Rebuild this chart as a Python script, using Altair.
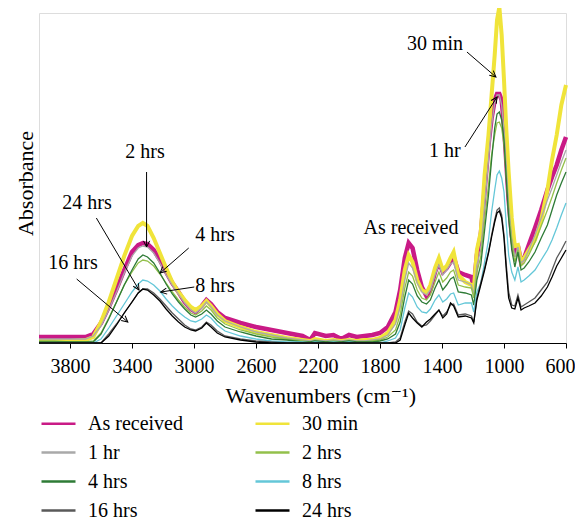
import math
import altair as alt
import pandas as pd

# ---------------- data ----------------
wavenumber = [
    4000, 3900, 3800, 3700, 3650, 3600, 3550, 3500, 3450, 3400,
    3360, 3330, 3300, 3260, 3220, 3180, 3140, 3100, 3060, 3020,
    2990, 2950, 2920, 2890, 2850, 2800, 2700, 2600, 2500, 2400,
    2300, 2250, 2220, 2150, 2100, 2050, 2000, 1950, 1900, 1850,
    1800, 1750, 1700, 1670, 1640, 1615, 1590, 1560, 1530, 1500,
    1475, 1445, 1420, 1395, 1370, 1345, 1325, 1295, 1250, 1210,
    1195, 1175, 1150, 1125, 1100, 1080, 1060, 1045, 1030, 1015,
    1000, 985, 970, 950, 930, 910, 890, 870, 840, 800,
    760, 720, 690, 660, 630, 600]

as_received = [
    6, 6, 6, 6, 9, 20, 36, 54, 73, 91,
    98, 100, 99, 93, 83, 71, 60, 51, 41, 34,
    31, 37, 43, 39, 31, 25, 20, 16, 13, 10,
    7, 3, 10, 7, 8, 4, 8, 6, 7, 8,
    10, 16, 31, 53, 85, 100, 95, 73, 56, 47,
    53, 71, 81, 71, 75, 81, 86, 71, 68, 66,
    55, 88, 108, 153, 198, 225, 243, 249, 249, 243,
    218, 181, 143, 108, 87, 97, 81, 85, 98, 115,
    133, 153, 166, 178, 193, 206]

min_30 = [
    2, 2, 2, 3, 6, 21, 41, 64, 87, 107,
    117, 120, 117, 105, 90, 75, 61, 51, 43, 36,
    33, 37, 42, 37, 29, 22, 16, 11, 8, 5,
    3, 2, 4, 2, 3, 2, 3, 2, 3, 3,
    5, 10, 23, 43, 73, 88, 81, 63, 53, 50,
    58, 75, 85, 73, 77, 85, 91, 68, 61, 58,
    53, 93, 111, 168, 208, 248, 288, 323, 336, 308,
    263, 213, 171, 125, 97, 98, 81, 85, 93, 103,
    123, 153, 183, 208, 238, 258]

hr_1 = [
    4, 4, 4, 4, 7, 17, 33, 51, 70, 87,
    95, 97, 96, 90, 80, 68, 58, 49, 40, 33,
    30, 35, 41, 36, 28, 22, 16, 11, 8, 5,
    3, 2, 3, 2, 3, 2, 3, 2, 2, 3,
    4, 8, 19, 36, 63, 80, 75, 60, 51, 48,
    53, 68, 78, 68, 73, 79, 81, 63, 61, 58,
    48, 78, 93, 138, 183, 218, 240, 248, 248, 238,
    213, 175, 138, 105, 86, 96, 80, 83, 93, 108,
    125, 143, 155, 168, 181, 193]

hrs_2 = [
    2, 2, 1, 1, 2, 10, 25, 41, 58, 71,
    80, 83, 82, 77, 69, 60, 51, 43, 36, 30,
    28, 32, 37, 33, 25, 19, 13, 9, 6, 4,
    2, 1, 2, 1, 2, 1, 2, 1, 1, 2,
    3, 6, 13, 28, 55, 71, 67, 53, 45, 43,
    48, 61, 71, 61, 65, 71, 73, 58, 56, 55,
    45, 71, 86, 123, 158, 188, 208, 220, 221, 215,
    198, 165, 131, 101, 81, 93, 77, 80, 88, 101,
    117, 133, 146, 160, 173, 185]

hrs_4 = [
    1, 1, 1, 1, 1, 9, 24, 41, 58, 73,
    84, 88, 86, 80, 70, 59, 49, 41, 34, 28,
    26, 29, 33, 29, 22, 16, 11, 7, 4, 3,
    1, 1, 2, 1, 1, 1, 2, 1, 1, 1,
    2, 4, 9, 21, 46, 63, 59, 47, 41, 39,
    43, 55, 63, 53, 58, 64, 66, 51, 50, 48,
    38, 63, 78, 113, 148, 183, 215, 229, 231, 223,
    203, 163, 125, 93, 76, 91, 73, 75, 81, 91,
    105, 118, 133, 148, 160, 171]

hrs_8 = [
    0, 0, 0, 0, 0, 4, 15, 27, 39, 51,
    59, 63, 62, 58, 52, 44, 37, 31, 26, 22,
    21, 24, 28, 25, 18, 12, 7, 4, 2, 1,
    1, 0, 1, 0, 1, 0, 1, 0, 0, 0,
    0, 2, 5, 13, 35, 50, 46, 36, 31, 30,
    34, 43, 48, 41, 44, 49, 50, 38, 40, 40,
    31, 51, 60, 81, 103, 131, 153, 168, 172, 165,
    151, 118, 88, 71, 63, 76, 61, 63, 67, 73,
    83, 93, 103, 115, 128, 140]

hrs_16 = [
    0, 0, 0, 0, 0, 0, 9, 19, 30, 41,
    50, 54, 54, 50, 44, 37, 30, 24, 18, 14,
    13, 16, 21, 18, 12, 7, 4, 2, 1, 0,
    0, 0, 0, 0, 0, 0, 0, 0, 0, 0,
    0, 0, 1, 5, 21, 32, 29, 21, 17, 18,
    22, 28, 33, 27, 31, 38, 39, 28, 29, 27,
    21, 45, 60, 75, 91, 108, 123, 133, 135, 128,
    108, 78, 51, 38, 37, 48, 36, 38, 41, 45,
    53, 61, 73, 85, 93, 102]

hrs_24 = [
    0, 0, 0, 0, 0, 0, 7, 18, 30, 41,
    50, 54, 53, 48, 42, 34, 27, 21, 16, 13,
    12, 15, 20, 16, 10, 6, 3, 1, 0, 0,
    0, 0, 0, 0, 0, 0, 0, 0, 0, 0,
    0, 0, 0, 3, 18, 30, 25, 20, 16, 21,
    24, 29, 33, 25, 29, 40, 37, 26, 27, 25,
    20, 43, 58, 73, 90, 106, 121, 130, 132, 125,
    105, 73, 45, 35, 34, 45, 33, 35, 37, 40,
    47, 56, 66, 77, 85, 93]

series_names = ["As received", "30 min", "1 hr", "2 hrs",
                "4 hrs", "8 hrs", "16 hrs", "24 hrs"]
series_values = [as_received, min_30, hr_1, hrs_2, hrs_4, hrs_8, hrs_16, hrs_24]
series_colors = ["#c91a86", "#f0e43a", "#a9a9a9", "#93c04b",
                 "#2e7b36", "#64c7d8", "#595959", "#000000"]
series_widths = [4.5, 4, 1.3, 1.3, 1.3, 1.3, 1.3, 1.3]
# legend reading order (the legend fills column by column)
legend_order = ["As received", "1 hr", "4 hrs", "16 hrs",
                "30 min", "2 hrs", "8 hrs", "24 hrs"]

x_ticks = [3800, 3400, 3000, 2600, 2200, 1800, 1400, 1000, 600]

# annotations
label_text = ["2 hrs", "24 hrs", "16 hrs", "4 hrs", "8 hrs", "As received", "30 min", "1 hr"]
label_w = [3316, 3690, 3781, 2864, 2864, 1600, 1445, 1381]
label_h = [191, 140, 80, 108, 57, 115, 299, 192]

arrow_w1 = [3306, 3630, 3757, 3034, 2998, 1239, 1252]
arrow_h1 = [171, 125, 64, 95, 56, 291, 196]
arrow_w2 = [3306, 3355, 3427, 3219, 3215, 1052, 1045]
arrow_h2 = [96, 53, 21, 70, 51, 266, 246]

# ---------------- build tables ----------------
W, H = 527, 330
X_DOM = [600, 4000]
Y_DOM = [0, 330]
FONT = "Liberation Serif, Times New Roman, Times, DejaVu Serif, serif"

rows = []
for name, vals, sw in zip(series_names, series_values, series_widths):
    for w, v in zip(wavenumber, vals):
        rows.append({"series": name, "wavenumber": w, "absorbance": v, "sw": sw})
spec = pd.DataFrame(rows)
thick = spec[spec["series"].isin(["As received", "30 min"])]
thin = spec[~spec["series"].isin(["As received", "30 min"])]

px_w = W / (X_DOM[1] - X_DOM[0])
px_h = H / (Y_DOM[1] - Y_DOM[0])
angles = []
for w1, h1, w2, h2 in zip(arrow_w1, arrow_h1, arrow_w2, arrow_h2):
    dx = -(w2 - w1) * px_w
    dy = -(h2 - h1) * px_h
    angles.append(math.degrees(math.atan2(dx, -dy)) % 360)
arrows = pd.DataFrame({"w1": arrow_w1, "h1": arrow_h1, "w2": arrow_w2,
                       "h2": arrow_h2, "angle": angles})
labels = pd.DataFrame({"text": label_text, "w": label_w, "h": label_h})

color_map = dict(zip(series_names, series_colors))

x_scale = alt.Scale(domain=X_DOM, reverse=True, nice=False, zero=False)
y_scale = alt.Scale(domain=Y_DOM, nice=False, zero=False)

x_axis = alt.Axis(values=x_ticks, format="d", title="Wavenumbers (cm⁻¹)",
                  grid=False, tickSize=5, tickColor="black", domainColor="black",
                  labelFont=FONT, labelFontSize=20, labelColor="black", labelPadding=8,
                  labelFlush=False,
                  labelOffset={"condition": {"test": "datum.value === 600", "value": -6},
                               "value": 0},
                  titleFont=FONT, titleFontSize=22, titleFontWeight="normal",
                  titleColor="black", titleAlign="left", titleBaseline="middle",
                  titleX=186, titleY=52)
y_axis = alt.Axis(labels=False, ticks=False, grid=False, domain=False, title="Absorbance",
                  titleFont=FONT, titleFontSize=22, titleFontWeight="normal",
                  titleColor="black", titleAngle=270, titleAlign="center",
                  titleBaseline="middle", titleX=-14, titleY=170)

color = alt.Color("series:N",
                  scale=alt.Scale(domain=legend_order,
                                  range=[color_map[s] for s in legend_order]),
                  legend=alt.Legend(title=None, orient="none", legendX=1, legendY=392,
                                    columns=2, symbolType="stroke", symbolSize=1156,
                                    symbolStrokeWidth=2.5, labelFont=FONT, labelFontSize=20,
                                    labelColor="black", labelOffset=11, columnPadding=67,
                                    rowPadding=0, padding=0))

base_enc = dict(
    x=alt.X("wavenumber:Q", scale=x_scale, axis=x_axis),
    y=alt.Y("absorbance:Q", scale=y_scale, axis=y_axis),
    color=color,
    strokeWidth=alt.StrokeWidth("sw:Q", scale=None, legend=None),
    detail="series:N",
)

thick_lines = alt.Chart(thick).mark_line(interpolate="linear").encode(**base_enc)
thin_lines = alt.Chart(thin).mark_line(interpolate="linear").encode(**base_enc)

arrow_lines = alt.Chart(arrows).mark_rule(color="black", strokeWidth=1).encode(
    x=alt.X("w1:Q", scale=x_scale), x2="w2:Q",
    y=alt.Y("h1:Q", scale=y_scale), y2="h2:Q")
arrow_heads = alt.Chart(arrows).mark_point(
    shape="M-0.5,1L0,0L0.5,1", filled=False, color="black", strokeWidth=1, size=150,
    opacity=1).encode(
    x=alt.X("w2:Q", scale=x_scale), y=alt.Y("h2:Q", scale=y_scale),
    angle=alt.Angle("angle:Q", scale=None))
texts = alt.Chart(labels).mark_text(font=FONT, fontSize=20, color="black",
                                    align="center", baseline="middle").encode(
    x=alt.X("w:Q", scale=x_scale), y=alt.Y("h:Q", scale=y_scale), text="text:N")

chart = alt.layer(thick_lines, thin_lines, arrow_lines, arrow_heads, texts).properties(
    width=W, height=H,
    autosize=alt.AutoSizeParams(type="none"),
    padding={"left": 31, "top": 5, "right": 9, "bottom": 175},
).configure_view(stroke="black", strokeWidth=1).configure(background="white", font=FONT)

chart.save("out.html", embed_options={"renderer": "svg", "actions": False})
